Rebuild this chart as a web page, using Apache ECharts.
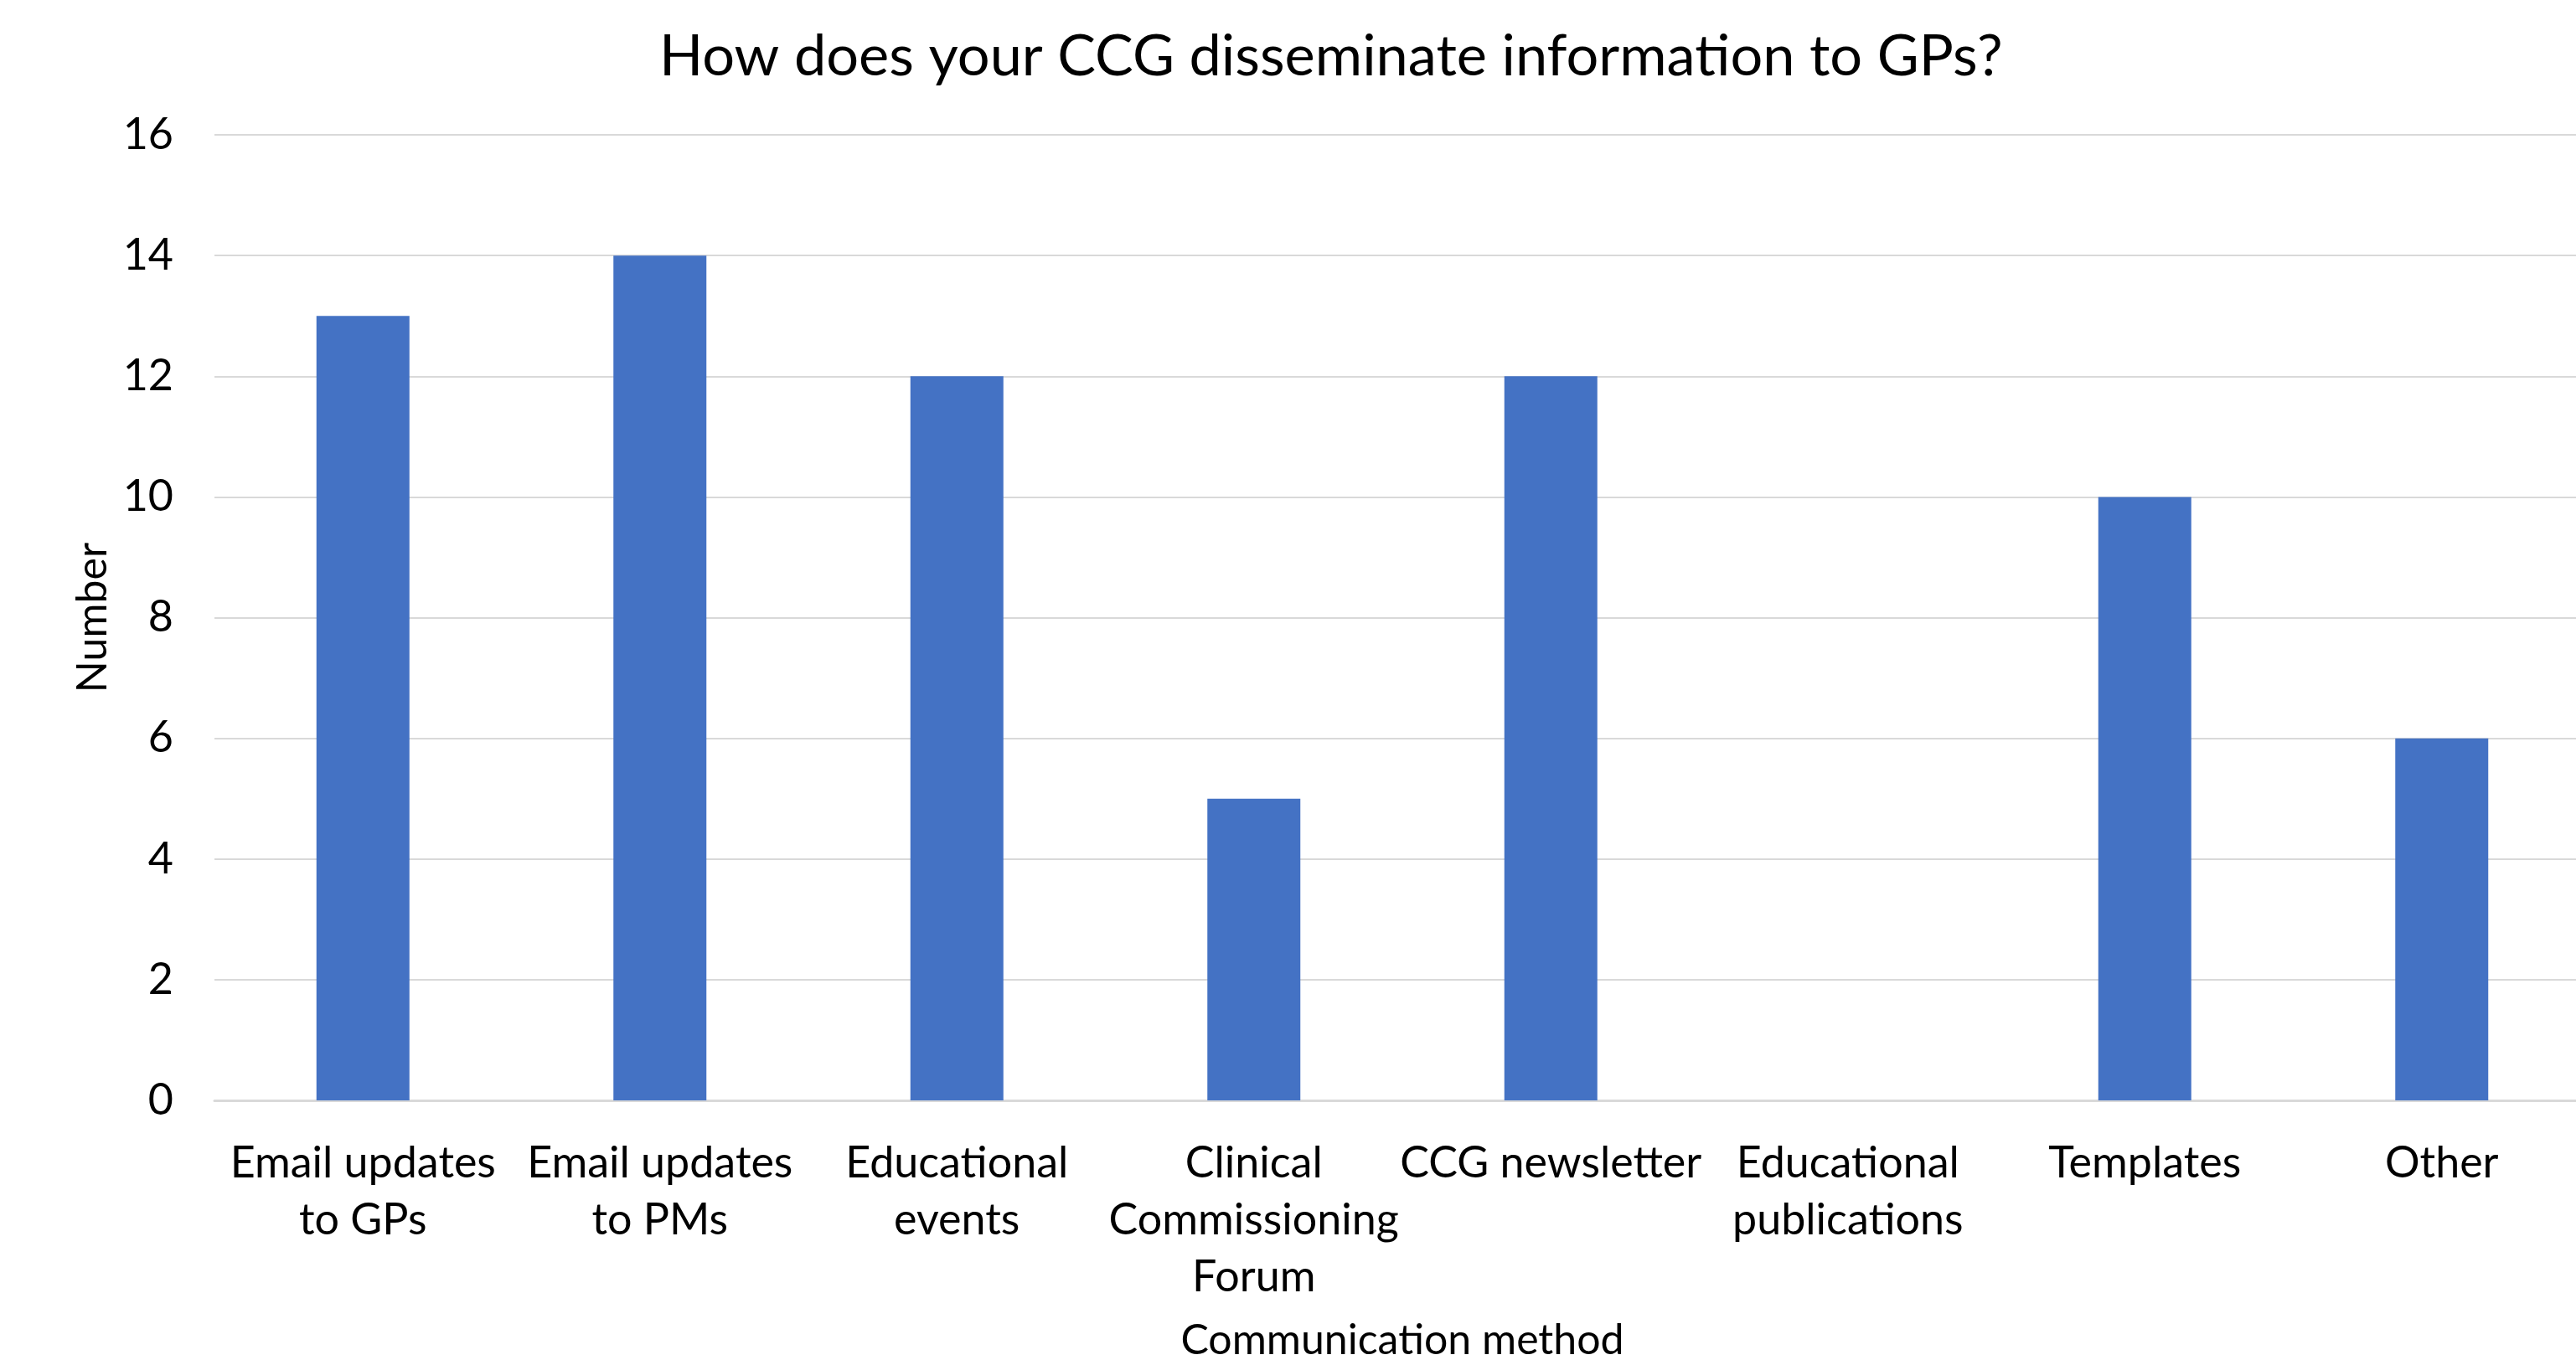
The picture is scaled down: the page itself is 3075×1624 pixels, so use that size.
<!DOCTYPE html>
<html>
<head>
<meta charset="utf-8">
<title>How does your CCG disseminate information to GPs?</title>
<script src="https://cdn.jsdelivr.net/npm/echarts@6/dist/echarts.min.js"></script>
<style>
  html, body { margin: 0; padding: 0; background: #ffffff; }
  #chart { width: 3075px; height: 1624px; }
</style>
</head>
<body>
<div id="chart"></div>
<script>
// Survey responses: communication methods used by CCGs
const categories = [
  'Email updates\nto GPs',
  'Email updates\nto PMs',
  'Educational\nevents',
  'Clinical\nCommissioning\nForum',
  'CCG newsletter',
  'Educational\npublications',
  'Templates',
  'Other'
];
const counts = [13, 14, 12, 5, 12, 0, 10, 6];
const yTicks = { min: 0, max: 16, interval: 2 };

const FONT = 'Lato';
const chart = echarts.init(document.getElementById('chart'), null, { renderer: 'canvas' });

chart.setOption({
  backgroundColor: '#ffffff',
  animation: false,
  title: {
    text: 'How does your CCG disseminate information to GPs?',
    left: 782,
    top: 28,
    textStyle: { fontFamily: FONT, fontSize: 68.5, fontWeight: 'normal', color: '#000000' }
  },
  grid: {
    left: 256, top: 161, width: 2836, height: 1153,
    containLabel: false,
    outerBoundsMode: 'none'
  },
  xAxis: {
    type: 'category',
    data: categories,
    name: 'Communication method',
    nameLocation: 'middle',
    nameGap: 262,
    nameTextStyle: { fontFamily: FONT, fontSize: 50, color: '#000000' },
    axisLine: { show: true, lineStyle: { color: '#d9d9d9', width: 3 } },
    axisTick: { show: false },
    axisLabel: {
      interval: 0,
      margin: 41,
      fontFamily: FONT,
      fontSize: 52,
      lineHeight: 68,
      color: '#000000',
      align: 'center'
    }
  },
  yAxis: {
    type: 'value',
    min: yTicks.min,
    max: yTicks.max,
    interval: yTicks.interval,
    name: 'Number',
    nameLocation: 'middle',
    nameGap: 118,
    nameRotate: 90,
    nameTextStyle: { fontFamily: FONT, fontSize: 50, color: '#000000' },
    axisLine: { show: false },
    axisTick: { show: false },
    axisLabel: { margin: 49, fontFamily: FONT, fontSize: 52, color: '#000000' },
    splitLine: { show: true, lineStyle: { color: '#d9d9d9', width: 2 } }
  },
  series: [{
    type: 'bar',
    data: counts,
    barWidth: 111,
    itemStyle: { color: '#4472c4' }
  }]
});
</script>
</body>
</html>
